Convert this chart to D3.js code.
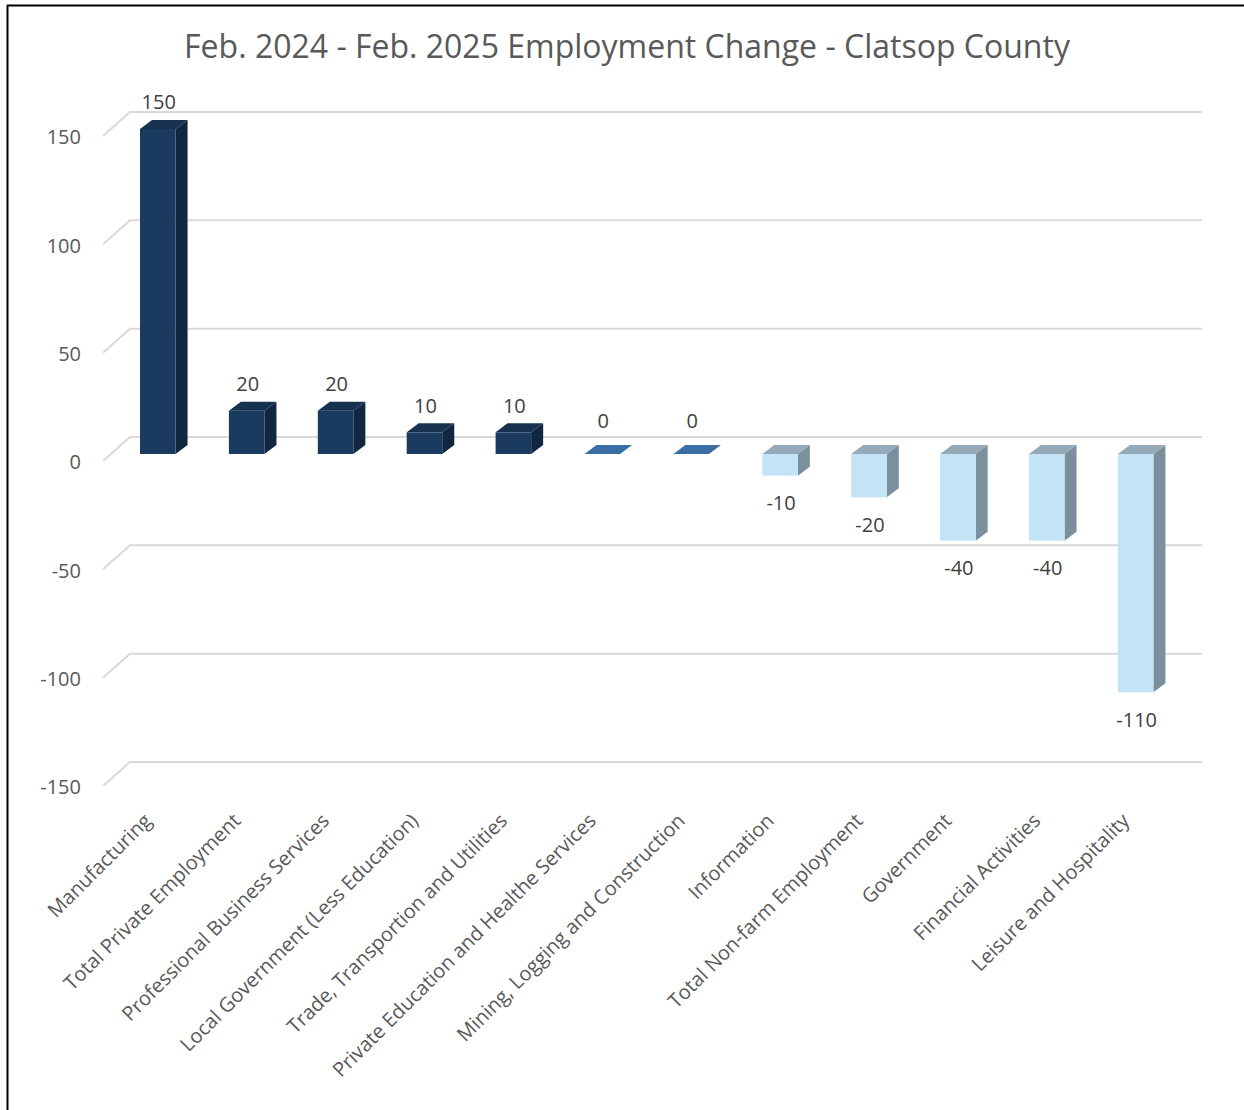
<!DOCTYPE html>
<html>
<head>
<meta charset="utf-8">
<script src="https://cdn.jsdelivr.net/npm/d3@7"></script>
<style>
  html, body { margin: 0; padding: 0; background: #fff; }
  svg { display: block; }
  text { font-family: "Open Sans", "Noto Sans", sans-serif; }
</style>
</head>
<body>
<div id="chart"></div>
<script>
const titleText = "Feb. 2024 - Feb. 2025 Employment Change - Clatsop County";
const categories = [
  "Manufacturing",
  "Total Private Employment",
  "Professional Business Services",
  "Local Government (Less Education)",
  "Trade, Transportion and Utilities",
  "Private Education and Healthe Services",
  "Mining, Logging and Construction",
  "Information",
  "Total Non-farm Employment",
  "Government",
  "Financial Activities",
  "Leisure and Hospitality"
];
const values = [150, 20, 20, 10, 10, 0, 0, -10, -20, -40, -40, -110];
const yTicks = [150, 100, 50, 0, -50, -100, -150];

const W = 1244, H = 1110;
const svg = d3.select("#chart").append("svg").attr("width", W).attr("height", H);

// frame (left and top edges visible)
svg.append("line").attr("x1", 7.5).attr("y1", 5).attr("x2", 7.5).attr("y2", H).attr("stroke", "#000").attr("stroke-width", 2);
svg.append("line").attr("x1", 7).attr("y1", 5.5).attr("x2", W).attr("y2", 5.5).attr("stroke", "#000").attr("stroke-width", 2);

const step = 88.9, pad = 0.6;
const x = d3.scaleBand().domain(categories)
  .range([140 - pad * step, 140 - pad * step + step * (categories.length + pad)]).padding(pad);
const y = d3.scaleLinear().domain([-150, 150]).range([779, 129]);

// depth offsets
const wallFront = 7, wallBack = -17;
const bdx = 12, bdy = -9;

// title
svg.append("text").attr("x", 627).attr("y", 49).attr("text-anchor", "middle")
  .attr("dominant-baseline", "middle")
  .attr("font-size", 32).attr("fill", "#595959").text(titleText);

// gridlines with perspective floor/wall edges
const gx0 = 103, gx1 = 130, gx2 = 1202;
const grid = svg.append("g");
yTicks.forEach(v => {
  grid.append("path")
    .attr("d", `M${gx0},${y(v) + wallFront} L${gx1},${y(v) + wallBack} L${gx2},${y(v) + wallBack}`)
    .attr("fill", "none").attr("stroke", "#d9d9d9").attr("stroke-width", 2);
});

// y labels
svg.append("g").selectAll("text").data(yTicks).join("text")
  .attr("x", 81).attr("y", d => y(d) + wallFront + 3)
  .attr("text-anchor", "end").attr("dominant-baseline", "middle")
  .attr("font-size", 20).attr("fill", "#595959").text(d => d);

// colours by sign
function pal(v) {
  if (v > 0) return { front: "#1a3a5f", side: "#10273f", top: "#16324f" };
  if (v < 0) return { front: "#c2e4f6", side: "#7b8f9d", top: "#94aab8" };
  return { front: "#3a6ea5", side: "#3a6ea5", top: "#3a6ea5" };
}

const bars = svg.append("g");
categories.forEach((c, i) => {
  const v = values[i];
  const p = pal(v);
  const x0 = x(c), x1 = x(c) + x.bandwidth();
  const yTop = Math.min(y(v), y(0)), yBot = Math.max(y(v), y(0));
  const g = bars.append("g");
  if (v === 0) {
    g.append("path")
      .attr("d", `M${x0},${y(0)} L${x1},${y(0)} L${x1 + bdx},${y(0) + bdy} L${x0 + bdx},${y(0) + bdy} Z`)
      .attr("fill", p.top);
    return;
  }
  g.append("path")
    .attr("d", `M${x1},${yTop} L${x1 + bdx},${yTop + bdy} L${x1 + bdx},${yBot + bdy} L${x1},${yBot} Z`)
    .attr("fill", p.side);
  g.append("path")
    .attr("d", `M${x0},${yTop} L${x1},${yTop} L${x1 + bdx},${yTop + bdy} L${x0 + bdx},${yTop + bdy} Z`)
    .attr("fill", p.top);
  g.append("rect").attr("x", x0).attr("y", yTop).attr("width", x.bandwidth()).attr("height", yBot - yTop)
    .attr("fill", p.front);
});

// data labels
svg.append("g").selectAll("text").data(categories).join("text")
  .attr("x", c => x(c) + x.bandwidth() / 2 + 1)
  .attr("y", (c, i) => {
    const v = values[i];
    if (v > 0) return y(v) - 25;
    if (v === 0) return y(0) - 31;
    return y(v) + 29;
  })
  .attr("text-anchor", "middle").attr("dominant-baseline", "middle")
  .attr("font-size", 20).attr("fill", "#404040")
  .text((c, i) => values[i]);

// category labels
svg.append("g").selectAll("text").data(categories).join("text")
  .attr("transform", c => `translate(${x(c) + x.bandwidth() / 2 - 5},${822}) rotate(-45)`)
  .attr("text-anchor", "end")
  .attr("font-size", 20).attr("fill", "#595959")
  .text(c => c);
</script>
</body>
</html>
